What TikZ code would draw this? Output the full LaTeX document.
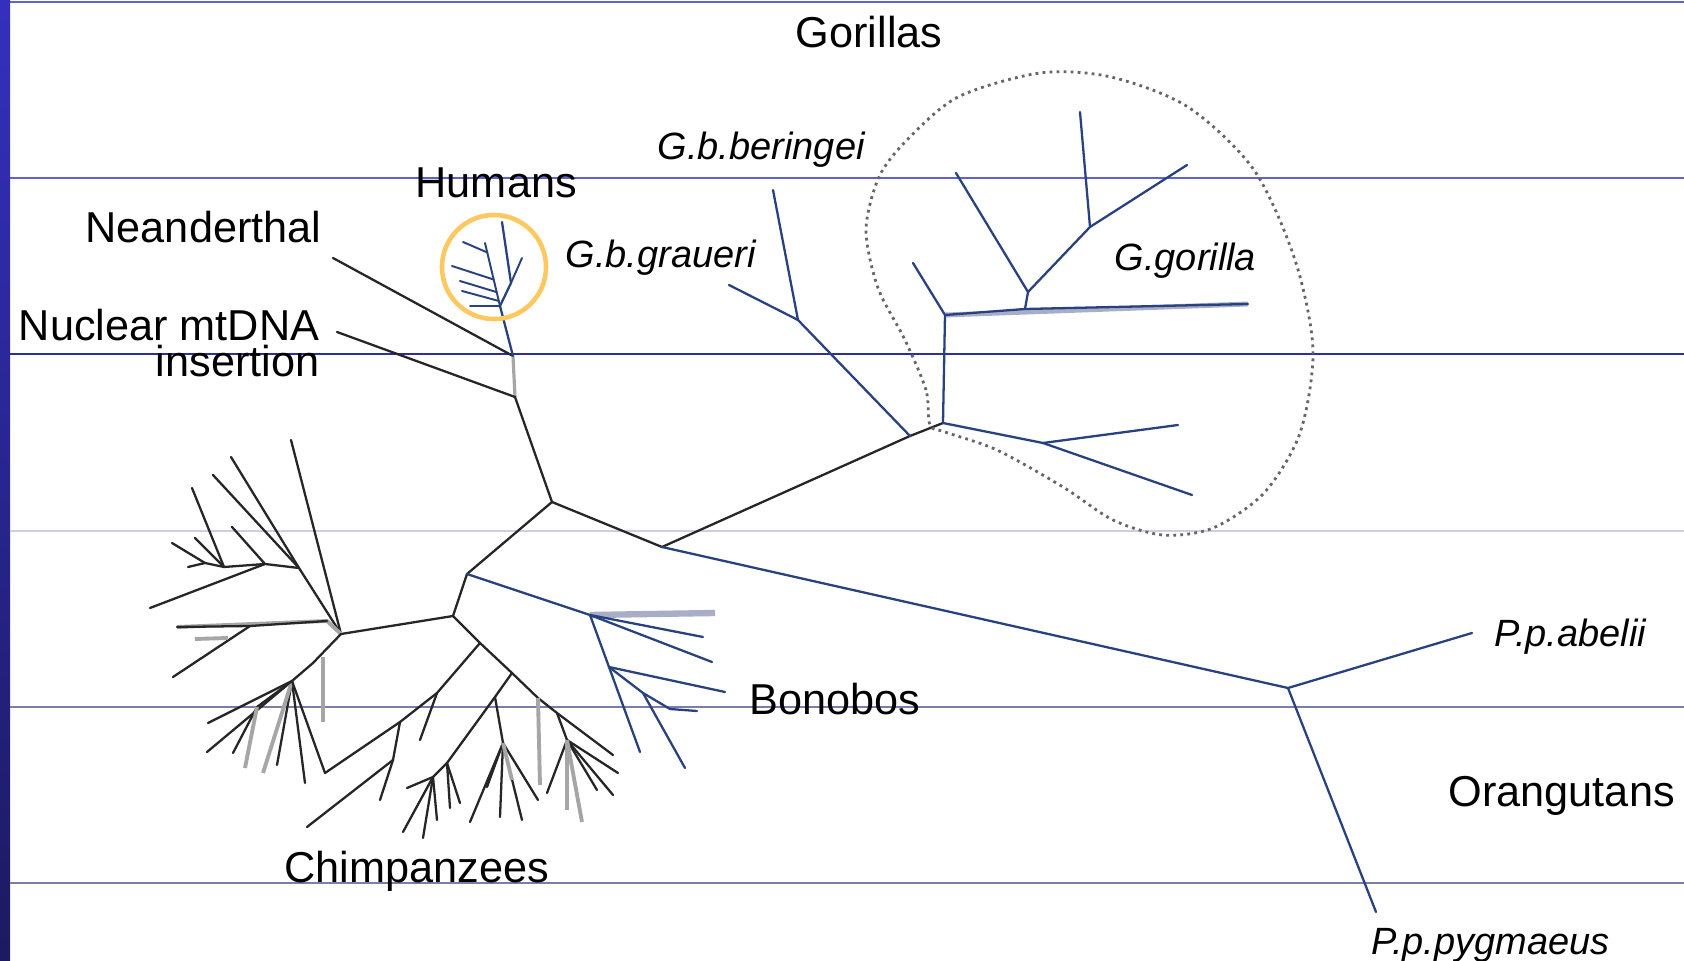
\documentclass[tikz,border=0pt]{standalone}
\usepackage{fontspec}
\setmainfont{Liberation Sans}
\usetikzlibrary{positioning,calc}
\definecolor{barTop}{RGB}{52,48,190}
\definecolor{barBot}{RGB}{28,26,96}
\definecolor{ruleA}{RGB}{95,95,215}
\definecolor{ruleB}{RGB}{45,45,170}
\definecolor{ruleLight}{RGB}{205,205,228}
\definecolor{ruleGray}{RGB}{125,125,170}
\colorlet{treeBlack}{black!85}
\definecolor{treeBlue}{RGB}{40,66,128}
\definecolor{bandBlue}{RGB}{168,174,200}
\definecolor{ringOrange}{RGB}{252,200,95}

\begin{document}
\begin{tikzpicture}[x=0.01cm, y=-0.01cm,
    every node/.style={font=\fontsize{12.3}{14}\selectfont, inner sep=0pt, anchor=base west},
    taxon/.style={font=\fontsize{10.8}{12}\selectfont\itshape},
    ape/.style={draw=treeBlack, line width=0.65pt, line cap=round},
    bono/.style={draw=treeBlue, line width=0.65pt, line cap=round},
    pale/.style={draw=black!35, line width=1.1pt},
    band/.style={draw=bandBlue, line width=1.8pt},
    rule/.style={line width=0.45pt}]
\useasboundingbox (0,0) rectangle (1684,961);
\fill[white] (0,0) rectangle (1684,961);
\shade[top color=barTop, bottom color=barBot] (0,0) rectangle (10,961);
\foreach \yy/\cc in {2/ruleA, 178/ruleA, 354/ruleB, 531/ruleLight, 707/ruleGray, 883/ruleGray}
    \draw[rule, \cc] (10,\yy) -- (1684,\yy);

% labels
\node (gorillas) at (795,48) {Gorillas};
\node (humans) at (415,198) {Humans};
\node[anchor=base east] (neander) at (322,243) {Neanderthal};
\node[anchor=north east, align=right, font=\fontsize{12.3}{10.4}\selectfont] (nuclear) at (320,308) {Nuclear mtDNA\\insertion};
\node[taxon] (beringei) at (657,160) {G.b.beringei};
\node[taxon] (graueri) at (565,268) {G.b.graueri};
\node[taxon] (ggorilla) at (1114,271) {G.gorilla};
\node (bonobos) at (749,715) {Bonobos};
\node[taxon] (abelii) at (1494,647) {P.p.abelii};
\node (orangs) at (1448,807) {Orangutans};
\node (chimps) at (284,883) {Chimpanzees};
\node[taxon] (pygmaeus) at (1371,955) {P.p.pygmaeus};

% backbone
\coordinate (j1) at (513,356);
\coordinate (j2) at (515,397);
\coordinate (ca) at (552,502);
\coordinate (cb) at (467,574);
\coordinate (cc) at (453,616);
\coordinate (cl) at (341,634);
\coordinate (cd) at (662,547);
\coordinate (gj) at (910,436);
\coordinate (g0) at (943,423);
\coordinate (or) at (1288,688);
\coordinate (neaT) at (333,258);
\coordinate (nucT) at (337,332);
\coordinate (abeT) at (1472,633);
\coordinate (pygT) at (1376,912);
\draw[ape] (neaT) -- (j1);
\draw[pale, line width=0.9pt] (j1) -- (j2);
\draw[ape] (nucT) -- (j2) -- (ca) -- (cb) -- (cc) -- (cl);
\draw[ape] (ca) -- (cd) -- (gj) -- (g0);
\draw[bono] (cd) -- (or) -- (abeT);
\draw[bono] (or) -- (pygT);

% humans
\coordinate (hA) at (500,306);
\coordinate (hB) at (511,283);
\coordinate (hT) at (502,222);
\coordinate (hR) at (522,258);
\coordinate (hS) at (485,243);
\draw[bono] (j1) -- (hA) -- (hB) -- (hT);
\draw[bono, line width=0.55pt] (hB) -- (hR);
\draw[bono, line width=0.55pt] (hA) -- (hS);
\draw[bono, line width=0.55pt] ($(hA)!0.85!(hS)$) -- (463,242)
    ($(hA)!0.42!(hS)$) -- (452,266) ($(hA)!0.22!(hS)$) -- (460,281)
    ($(hA)!0.08!(hS)$) -- (462,291) (hA) -- (470,306);
\node[draw=ringOrange, line width=1.3pt, circle, minimum size=1.04cm, anchor=center] (ring) at (494,267) {};

% gorillas
\coordinate (bg) at (798,320);
\coordinate (berT) at (773,190);
\coordinate (graT) at (729,285);
\coordinate (gc) at (945,315);
\coordinate (gcT) at (913,263);
\coordinate (gb0) at (1025,309);
\coordinate (ggT) at (1248,304);
\coordinate (gb) at (1028,292);
\coordinate (gbT) at (956,173);
\coordinate (ga) at (1090,227);
\coordinate (gaT) at (1080,112);
\coordinate (gaR) at (1187,165);
\coordinate (gd) at (1043,443);
\coordinate (gdT) at (1192,495);
\coordinate (gdR) at (1178,425);
\draw[bono] (gj) -- (bg) -- (berT);
\draw[bono] (bg) -- (graT);
\draw[band, line width=1.4pt] (gc) -- (ggT);
\draw[bono] (g0) -- (gc) -- (gcT);
\draw[bono] (gc) -- (gb0) -- (ggT);
\draw[bono] (gb0) -- (gb) -- (gbT);
\draw[bono] (gb) -- (ga) -- (gaT);
\draw[bono] (ga) -- (gaR);
\draw[bono] (g0) -- (gd) -- (gdT);
\draw[bono] (gd) -- (gdR);
\draw[black!60, line width=0.8pt, dash pattern=on 0.8pt off 1.2pt] plot[smooth cycle] coordinates {
    (930,425) (926,390) (905,340) (878,288) (866,230) (879,177) (907,140)
    (958,97) (1040,73) (1111,77) (1188,107) (1254,170) (1295,260) (1313,350)
    (1300,433) (1264,493) (1213,528) (1163,535) (1113,520) (1063,487)
    (997,450) (945,432)};

% bonobos
\coordinate (bj) at (590,615);
\coordinate (bk) at (609,667);
\coordinate (bm) at (643,693);
\coordinate (bm2) at (670,709);
\draw[band] (bj) -- (715,613);
\draw[bono] (cb) -- (bj) -- (703,637);
\draw[bono] (bj) -- (712,662);
\draw[bono] (bj) -- (bk) -- (725,692);
\draw[bono] (bk) -- (640,752);
\draw[bono] (bk) -- (bm) -- (685,768);
\draw[bono] (bm) -- (bm2) -- (697,711);

% chimpanzees, upper left
\coordinate (q1) at (299,568);
\coordinate (q2) at (265,564);
\coordinate (q3) at (224,567);
\coordinate (q4) at (205,563);
\coordinate (hz) at (327,621);
\coordinate (hw) at (250,626);
\draw[ape] (cl) -- (291,440);
\draw[ape] (cl) -- (q1) -- (231,457);
\draw[ape] (q1) -- (213,475);
\draw[ape] (q1) -- (q2) -- (q3) -- (q4) -- (188,567);
\draw[ape] (q2) -- (232,527);
\draw[ape] (q2) -- (150,608);
\draw[ape] (q3) -- (192,488);
\draw[ape] (q4) -- (172,543);
\draw[ape] (q3) -- (195,538);
\draw[pale] (cl) -- (hz) -- (177,627);
\draw[ape] (hz) -- (hw) -- (177,627);
\draw[ape] (hw) -- (173,677);
\draw[pale] (228,638) -- (195,639);

% chimpanzees, lower left
\coordinate (s1) at (313,663);
\coordinate (s2) at (292,681);
\coordinate (s3) at (257,707);
\coordinate (vb) at (325,773);
\draw[ape] (cl) -- (s1) -- (s2);
\draw[pale] (323,657) -- (323,722);
\foreach \p in {(208,723),(207,752),(277,765),(305,783)}
    \draw[ape] (s2) -- \p;
\draw[pale] (s2) -- (263,773);
\draw[ape] (s2) -- (s3) -- (233,753);
\draw[pale] (s3) -- (245,768);
\draw[ape] (s2) -- (vb);

% chimpanzees, middle and right
\coordinate (e1) at (480,643);
\coordinate (e2) at (512,673);
\coordinate (e3) at (538,698);
\coordinate (e4) at (557,713);
\coordinate (e5) at (567,740);
\coordinate (v2) at (437,693);
\coordinate (v1) at (400,722);
\coordinate (w1) at (393,760);
\coordinate (f1) at (495,697);
\coordinate (f2) at (503,743);
\coordinate (n1) at (447,763);
\coordinate (n2) at (433,777);
\draw[ape] (cc) -- (e1) -- (e2) -- (e3) -- (e4) -- (e5);
\draw[ape] (e1) -- (v2) -- (v1) -- (vb);
\draw[ape] (v2) -- (420,740);
\draw[ape] (v1) -- (w1) -- (307,827);
\draw[ape] (w1) -- (380,800);
\draw[ape] (e2) -- (f1) -- (n1) -- (n2) -- (403,832);
\foreach \p in {(460,803),(450,808)}
    \draw[ape] (n1) -- \p;
\foreach \p in {(407,788),(423,838),(437,820)}
    \draw[ape] (n2) -- \p;
\draw[ape] (f1) -- (f2);
\foreach \p in {(470,822),(487,787),(500,817),(522,820),(538,800)}
    \draw[ape] (f2) -- \p;
\draw[pale] (f2) -- (512,780);
\draw[pale] (e3) -- (540,785);
\foreach \p in {(547,793),(597,790),(613,795),(618,773)}
    \draw[ape] (e5) -- \p;
\foreach \p in {(567,810),(582,822)}
    \draw[pale] (e5) -- \p;
\draw[ape] (e4) -- (613,755);
\end{tikzpicture}
\end{document}
